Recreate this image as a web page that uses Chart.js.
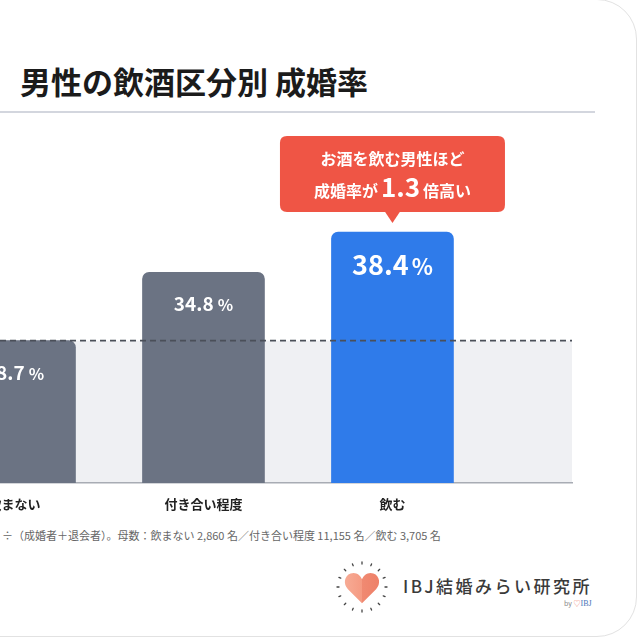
<!DOCTYPE html>
<html><head><meta charset="utf-8">
<script src="https://cdn.jsdelivr.net/npm/chart.js@4.4.1/dist/chart.umd.min.js"></script>
<style>
html,body{margin:0;padding:0;width:640px;height:640px;overflow:hidden;background:#fff;font-family:"Noto Sans CJK JP","Noto Sans",sans-serif;}
#card{position:absolute;left:-60px;top:-1px;width:697px;height:638px;border:1px solid #e2e2e2;border-radius:40px;background:#fff;box-sizing:border-box;}
#title{position:absolute;left:20px;top:60px;height:42px;line-height:42px;font-size:31px;font-weight:700;color:#1b1b1b;white-space:nowrap;}
#rule{position:absolute;left:0;top:111px;width:595px;height:2px;background:#d3d6de;}
#wrap{position:absolute;left:-100px;top:120px;width:700px;height:400px;}
#note{position:absolute;left:2px;top:527px;font-size:11px;color:#666;white-space:nowrap;line-height:16px;}
#logo{position:absolute;left:336px;top:561px;}
#logotext{position:absolute;left:403px;top:574px;font-size:17px;letter-spacing:2.5px;color:#3a3a3a;font-weight:500;white-space:nowrap;line-height:24px;}
#by{position:absolute;left:564px;top:598px;font-size:7px;color:#888;white-space:nowrap;line-height:10px;}
#by .h{color:#f08c75;} #by .b{color:#4a74b8;font-family:"Liberation Serif",serif;font-size:8px;}
</style></head>
<body>
<div id="card"></div>
<div id="title">男性の飲酒区分別 成婚率</div>
<div id="rule"></div>
<div id="wrap"><canvas id="c" width="700" height="400"></canvas></div>
<div id="note">÷（成婚者＋退会者）。母数：飲まない 2,860 名／付き合い程度 11,155 名／飲む 3,705 名</div>
<svg id="logo" width="52" height="52" viewBox="0 0 52 52">
  <defs><linearGradient id="hg" x1="0" x2="1" y1="0" y2="0">
    <stop offset="0" stop-color="#f7ab95"/><stop offset="0.5" stop-color="#f59a82"/><stop offset="0.5" stop-color="#f08a72"/><stop offset="1" stop-color="#ee8068"/></linearGradient></defs>
  <g id="ticks" stroke="#444" stroke-width="1.3" stroke-linecap="round"></g>
  <path transform="translate(7,8) scale(0.38)" fill="url(#hg)" d="M50 90 L13 53 C0 40 3 18 20 12 C34 7 45 16 50 27 C55 16 66 7 80 12 C97 18 100 40 87 53 Z"/>
</svg>
<div id="logotext">IBJ結婚みらい研究所</div>
<div id="by">by <span class="h">♡</span><span class="b">IBJ</span></div>
<script>
// ---- data ----
const categories = ['飲まない', '付き合い程度', '飲む'];
const rates = [28.7, 34.8, 38.4];
const highlightIndex = 2;
const referenceIndex = 0;
const calloutLine1 = 'お酒を飲む男性ほど';
const calloutLine2 = ['成婚率が', '1.3', '倍高い'];
const barColors = ['#6b7383', '#6b7383', '#2f7bea'];

// logo ticks
(function(){
  const g = document.getElementById('ticks');
  for (let k = 0; k < 16; k++) {
    const a = k * Math.PI * 2 / 16;
    const r1 = 23, r2 = 25;
    const l = document.createElementNS('http://www.w3.org/2000/svg', 'line');
    l.setAttribute('x1', 26 + r1 * Math.cos(a)); l.setAttribute('y1', 26 + r1 * Math.sin(a));
    l.setAttribute('x2', 26 + r2 * Math.cos(a)); l.setAttribute('y2', 26 + r2 * Math.sin(a));
    g.appendChild(l);
  }
})();

const FAM = '"Noto Sans CJK JP","Noto Sans",sans-serif';

function roundRect(ctx, x, y, w, h, r) {
  ctx.beginPath();
  ctx.moveTo(x + r, y);
  ctx.lineTo(x + w - r, y); ctx.quadraticCurveTo(x + w, y, x + w, y + r);
  ctx.lineTo(x + w, y + h - r); ctx.quadraticCurveTo(x + w, y + h, x + w - r, y + h);
  ctx.lineTo(x + r, y + h); ctx.quadraticCurveTo(x, y + h, x, y + h - r);
  ctx.lineTo(x, y + r); ctx.quadraticCurveTo(x, y, x + r, y);
  ctx.closePath();
}

const decor = {
  id: 'decor',
  beforeDraw(chart) {
    const {ctx, chartArea: a, scales: {y}} = chart;
    const py = y.getPixelForValue(rates[referenceIndex]);
    ctx.save();
    ctx.fillStyle = '#eff0f3';
    ctx.fillRect(a.left, py, a.right - a.left, a.bottom - py);
    ctx.restore();
  },
  afterDatasetsDraw(chart) {
    const {ctx, chartArea: a, scales: {y}} = chart;
    const py = y.getPixelForValue(rates[referenceIndex]);
    ctx.save();
    ctx.strokeStyle = '#4a4f59';
    ctx.lineWidth = 1.6;
    ctx.setLineDash([6, 4]);
    ctx.beginPath(); ctx.moveTo(a.left, py); ctx.lineTo(a.right, py); ctx.stroke();
    ctx.setLineDash([]);
    // value labels
    const meta = chart.getDatasetMeta(0);
    meta.data.forEach((bar, i) => {
      const big = i === highlightIndex;
      const num = rates[i].toFixed(1);
      const f1 = `bold ${big ? 27 : 19}px ${FAM}`;
      const f2 = `bold ${big ? 22 : 16}px ${FAM}`;
      ctx.font = f1; const w1 = ctx.measureText(num).width;
      ctx.font = f2; const w2 = ctx.measureText('%').width;
      const gap = big ? 3 : 4;
      const x0 = bar.x - (w1 + gap + w2) / 2;
      const by = bar.y + (big ? 43 : 39);
      ctx.fillStyle = '#ffffff';
      ctx.textBaseline = 'alphabetic'; ctx.textAlign = 'left';
      ctx.font = f1; ctx.fillText(num, x0, by);
      ctx.font = f2; ctx.fillText('%', x0 + w1 + gap, by);
    });
    ctx.restore();
  },
  afterDraw(chart) {
    const {ctx} = chart;
    const bar = chart.getDatasetMeta(0).data[highlightIndex];
    const cx = bar.x, W = 225, H = 76;
    const bottom = bar.y - 20, top = bottom - H;
    ctx.save();
    ctx.fillStyle = '#ef5545';
    roundRect(ctx, cx - W / 2, top, W, H, 7);
    ctx.fill();
    ctx.beginPath();
    ctx.moveTo(cx - 8, bottom - 1); ctx.lineTo(cx + 8, bottom - 1); ctx.lineTo(cx, bottom + 11); ctx.closePath();
    ctx.fill();
    ctx.fillStyle = '#ffffff';
    ctx.textBaseline = 'alphabetic';
    ctx.textAlign = 'center';
    ctx.font = `bold 16px ${FAM}`;
    ctx.fillText(calloutLine1, cx, top + 29);
    const fs = [`bold 16px ${FAM}`, `bold 26px ${FAM}`, `bold 16px ${FAM}`];
    const ws = calloutLine2.map((t, k) => { ctx.font = fs[k]; return ctx.measureText(t).width; });
    const gap = 3;
    let x = cx - (ws[0] + ws[1] + ws[2] + 2 * gap) / 2;
    ctx.textAlign = 'left';
    calloutLine2.forEach((t, k) => { ctx.font = fs[k]; ctx.fillText(t, x, top + 61); x += ws[k] + gap; });
    ctx.restore();
  }
};

new Chart(document.getElementById('c'), {
  type: 'bar',
  data: {
    datasets: [{
      data: categories.map((c, i) => ({x: i, y: rates[i]})),
      backgroundColor: barColors,
      borderRadius: 7,
      barThickness: 122
    }]
  },
  options: {
    responsive: false,
    devicePixelRatio: 1,
    animation: false,
    layout: {padding: {left: 20, right: 28, top: 38, bottom: 0}},
    plugins: {legend: {display: false}, tooltip: {enabled: false}},
    scales: {
      x: {
        type: 'linear', min: -0.5, max: 2.95, offset: false,
        grid: {display: false, offset: false},
        border: {display: true, color: '#a8acb4', width: 1.5},
        afterBuildTicks: (s) => { s.ticks = categories.map((c, i) => ({value: i})); },
        afterFit: (s) => { s.height = 37; },
        ticks: {
          padding: 5, maxRotation: 0, autoSkip: false, color: '#222',
          font: {family: FAM, size: 13, weight: 'bold'},
          callback: (v) => categories[v] !== undefined ? categories[v] : ''
        }
      },
      y: {display: false, min: 16, max: 45}
    }
  },
  plugins: [decor]
});
</script>
</body></html>
